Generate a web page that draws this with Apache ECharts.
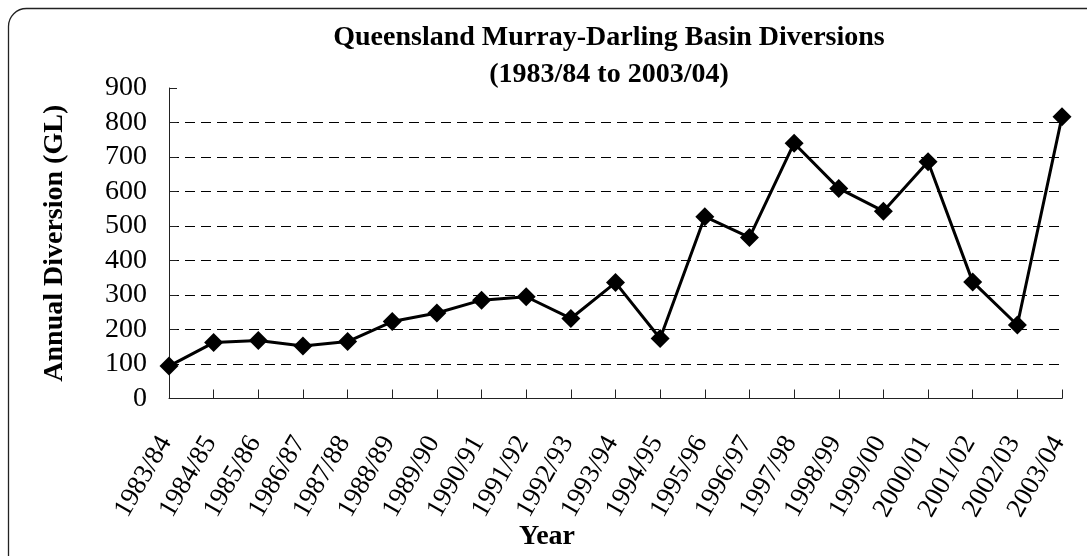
<!DOCTYPE html>
<html>
<head>
<meta charset="utf-8">
<script src="https://cdn.jsdelivr.net/npm/echarts@6/dist/echarts.min.js"></script>
<style>
html,body{margin:0;padding:0;background:#fff;}
#chart{width:1087px;height:556px;}
</style>
</head>
<body>
<div id="chart"></div>
<script>
const categories = ['1983/84','1984/85','1985/86','1986/87','1987/88','1988/89','1989/90','1990/91','1991/92','1992/93','1993/94','1994/95','1995/96','1996/97','1997/98','1998/99','1999/00','2000/01','2001/02','2002/03','2003/04'];
const diversions = [94,162,168,152,165,223,248,285,295,232,336,174,527,467,740,609,543,686,338,213,817];
const yMin = 0, yMax = 900, yStep = 100;
const titleText = 'Queensland Murray-Darling Basin Diversions\n(1983/84 to 2003/04)';
const yName = 'Annual Diversion (GL)';
const xName = 'Year';

const FONT = "'Liberation Serif','Times New Roman',serif";
const chart = echarts.init(document.getElementById('chart'), null, {renderer:'canvas'});
chart.setOption({
  animation:false,
  backgroundColor:'#fff',
  graphic:[{
    type:'rect', silent:true, z:-1,
    shape:{x:8.5,y:8.5,width:1100,height:565,r:18},
    style:{fill:'none',stroke:'#222',lineWidth:1.3}
  }],
  title:{
    text:titleText, left:604, top:14, textAlign:'center',
    textStyle:{fontFamily:FONT,fontWeight:'bold',fontSize:28,lineHeight:37,color:'#000'}
  },
  grid:{left:169,right:25,top:88,bottom:157.5,containLabel:false,outerBoundsMode:'none'},
  xAxis:{
    type:'category', data:categories, boundaryGap:false,
    name:xName, nameLocation:'middle', nameGap:124, nameMoveOverlap:false,
    nameTextStyle:{fontFamily:FONT,fontWeight:'bold',fontSize:28,color:'#000',verticalAlign:'top',padding:[0,137,0,0]},
    axisLine:{lineStyle:{color:'#222',width:1}},
    axisTick:{inside:true,length:9,alignWithLabel:true,lineStyle:{color:'#222'}},
    axisLabel:{rotate:60,margin:34,fontFamily:FONT,fontSize:27,color:'#000',interval:0,
      formatter:function(v){return v+' ';}},
    splitLine:{show:false}
  },
  yAxis:{
    type:'value', min:yMin, max:yMax, interval:yStep,
    name:yName, nameLocation:'middle', nameGap:100, nameRotate:90, nameMoveOverlap:false,
    nameTextStyle:{fontFamily:FONT,fontWeight:'bold',fontSize:28,color:'#000'},
    axisLine:{show:true,lineStyle:{color:'#222',width:1}},
    axisTick:{show:true,inside:true,length:8,lineStyle:{color:'#222'}},
    axisLabel:{margin:22,fontFamily:FONT,fontSize:28,color:'#000'},
    splitLine:{show:true,showMinLine:false,showMaxLine:false,lineStyle:{color:'#000',width:1,type:[10,6]}}
  },
  series:[{
    type:'line', data:diversions,
    symbol:'diamond', symbolSize:19,
    lineStyle:{color:'#000',width:3},
    itemStyle:{color:'#000'},
    z:5
  }]
});
</script>
</body>
</html>
